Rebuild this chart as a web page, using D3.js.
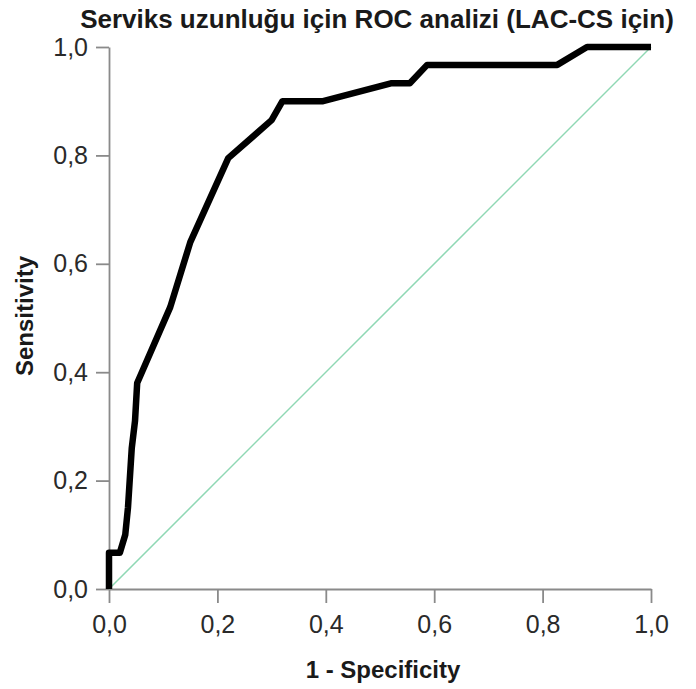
<!DOCTYPE html>
<html>
<head>
<meta charset="utf-8">
<script src="https://cdn.jsdelivr.net/npm/d3@7"></script>
<style>
  body { margin: 0; background: #fff; }
  svg { font-family: "Liberation Sans", Arial, sans-serif; }
</style>
</head>
<body>
<div id="plot"></div>
<script>
// ROC curve points (1 - specificity, sensitivity)
var fpr = [0, 0, 0.02, 0.03, 0.035, 0.042, 0.048, 0.052, 0.113, 0.15, 0.22, 0.30, 0.32, 0.395, 0.52, 0.555, 0.587, 0.827, 0.882, 1];
var tpr = [0, 0.067, 0.067, 0.1, 0.15, 0.26, 0.31, 0.38, 0.52, 0.64, 0.795, 0.865, 0.9, 0.9, 0.933, 0.933, 0.967, 0.967, 1, 1];
var refLine = [0, 1];
var tickValues = [0, 0.2, 0.4, 0.6, 0.8, 1.0];

var margin = {top: 47, right: 45, bottom: 100, left: 109},
    width = 696 - margin.left - margin.right,
    height = 689 - margin.top - margin.bottom;

var svg = d3.select("div#plot").append("svg")
    .attr("width", 696)
    .attr("height", 689);

var g = svg.append("g")
    .attr("transform", "translate(" + margin.left + "," + margin.top + ")");

var x = d3.scaleLinear().domain([0, 1]).range([0, width]);
var y = d3.scaleLinear().domain([0, 1]).range([height, 0]);

var fmt = function(d) { return d3.format(".1f")(d).replace(".", ","); };

// axes
var xAxis = g.append("g")
    .attr("transform", "translate(0," + height + ")")
    .call(d3.axisBottom(x).tickValues(tickValues).tickFormat(fmt).tickSize(14).tickSizeOuter(0).tickPadding(12));
var yAxis = g.append("g")
    .call(d3.axisLeft(y).tickValues(tickValues).tickFormat(fmt).tickSize(13).tickSizeOuter(0).tickPadding(8));

[xAxis, yAxis].forEach(function(a) {
  a.selectAll("path, line").attr("stroke", "#8a8a8a").attr("stroke-width", 1.8);
  a.selectAll("text").attr("fill", "#2a2a2a").style("font-size", "25px");
});

// diagonal reference line
g.append("line")
    .attr("x1", x(refLine[0])).attr("y1", y(refLine[0]))
    .attr("x2", x(refLine[1])).attr("y2", y(refLine[1]))
    .attr("stroke", "#8fd8b4")
    .attr("stroke-width", 1.5);

// ROC curve
var pts = fpr.map(function(d, i) { return [d, tpr[i]]; });
var line = d3.line()
    .x(function(d) { return x(d[0]); })
    .y(function(d) { return y(d[1]); });

g.append("path")
    .datum(pts)
    .attr("d", line)
    .attr("fill", "none")
    .attr("stroke", "#000")
    .attr("stroke-width", 6.5)
    .attr("stroke-linejoin", "round");

// title
svg.append("text")
    .attr("x", 377)
    .attr("y", 28)
    .attr("text-anchor", "middle")
    .attr("font-weight", "bold")
    .attr("fill", "#1a1a1a")
    .style("font-size", "26px")
    .text("Serviks uzunluğu için ROC analizi (LAC-CS için)");

// axis titles
svg.append("text")
    .attr("x", 383)
    .attr("y", 678)
    .attr("text-anchor", "middle")
    .attr("font-weight", "bold")
    .attr("fill", "#1a1a1a")
    .style("font-size", "24px")
    .text("1 - Specificity");

svg.append("text")
    .attr("transform", "translate(33," + 316 + ") rotate(-90)")
    .attr("text-anchor", "middle")
    .attr("font-weight", "bold")
    .attr("fill", "#1a1a1a")
    .style("font-size", "24px")
    .text("Sensitivity");
</script>
</body>
</html>
